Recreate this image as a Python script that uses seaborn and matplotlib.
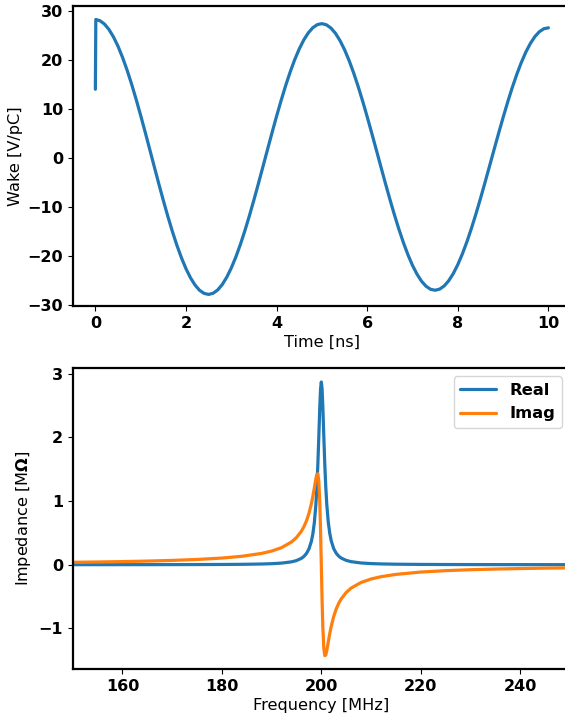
import matplotlib
matplotlib.use("Agg")
import matplotlib.pyplot as plt
import seaborn as sns
import pandas as pd

# ---- data ----
time_ns = [0.0, 0.01] + [round(0.1 * k, 1) for k in range(1, 101)]
wake_vpc = [14.0, 28.2,
    27.96, 27.28, 26.17, 24.65, 22.75, 20.48, 17.90, 15.04, 11.94, 8.66,
    5.25, 1.76, -1.76, -5.24, -8.64, -11.89, -14.96, -17.78, -20.32, -22.54,
    -24.40, -25.87, -26.94, -27.57, -27.78, -27.54, -26.87, -25.78, -24.28, -22.40,
    -20.18, -17.63, -14.81, -11.76, -8.53, -5.17, -1.73, 1.73, 5.16, 8.51,
    11.71, 14.73, 17.51, 20.02, 22.20, 24.03, 25.48, 26.53, 27.16, 27.36,
    27.12, 26.46, 25.39, 23.91, 22.06, 19.87, 17.36, 14.58, 11.58, 8.40,
    5.09, 1.71, -1.70, -5.08, -8.37, -11.53, -14.50, -17.24, -19.71, -21.86,
    -23.66, -25.09, -26.12, -26.74, -26.93, -26.70, -26.05, -24.99, -23.54, -21.72,
    -19.56, -17.09, -14.36, -11.40, -8.27, -5.01, -1.68, 1.68, 5.00, 8.24,
    11.35, 14.28, 16.97, 19.40, 21.52, 23.29, 24.70, 25.71, 26.32, 26.51]

freq_mhz = [150, 155, 160, 165, 170, 175, 180, 184, 188, 190, 192, 194, 195, 196,
    196.5, 197, 197.5, 198, 198.3, 198.6, 198.9, 199.1, 199.3, 199.5, 199.7,
    199.85, 200, 200.15, 200.3, 200.5, 200.7, 200.9, 201.1, 201.4, 201.7, 202,
    202.5, 203, 203.5, 204, 205, 206, 208, 210, 212, 215, 220, 225, 230, 235,
    240, 245, 250]
z_real = [0.0005, 0.0006, 0.0008, 0.0011, 0.0016, 0.0024, 0.0038, 0.0061, 0.011,
    0.016, 0.0252, 0.045, 0.0647, 0.1004, 0.130, 0.1746, 0.2453, 0.3666, 0.4843,
    0.662, 0.939, 1.208, 1.567, 2.016, 2.491, 2.765, 2.87, 2.765, 2.492, 2.019,
    1.573, 1.215, 0.946, 0.669, 0.4912, 0.3731, 0.2511, 0.1795, 0.1344, 0.1043,
    0.068, 0.0478, 0.0273, 0.0177, 0.0124, 0.0081, 0.0047, 0.003, 0.0022, 0.0016,
    0.0013, 0.001, 0.0008]
z_imag = [0.0378, 0.0428, 0.049, 0.057, 0.0676, 0.0824, 0.1044, 0.132, 0.1776,
    0.2139, 0.268, 0.3566, 0.4261, 0.5274, 0.5971, 0.6861, 0.8023, 0.958, 1.075,
    1.209, 1.347, 1.417, 1.429, 1.312, 0.972, 0.539, 0.0, -0.539, -0.971, -1.311,
    -1.428, -1.418, -1.349, -1.214, -1.081, -0.965, -0.811, -0.695, -0.6064,
    -0.5372, -0.4364, -0.3672, -0.2787, -0.2248, -0.1885, -0.1521, -0.1154,
    -0.0934, -0.0787, -0.0681, -0.0602, -0.054, -0.049]

series_names = ["Real", "Imag"]
x_ticks_top = [0, 2, 4, 6, 8, 10]
y_ticks_top = [-30, -20, -10, 0, 10, 20, 30]
x_ticks_bot = [160, 180, 200, 220, 240]
y_ticks_bot = [-1, 0, 1, 2, 3]

# ---- styling ----
sns.set_style("ticks")
plt.rcParams["font.family"] = ["DejaVu Sans"]
FS_LABEL = 11.6
FS_TICK = 11.5
FS_LEG = 11.8
blue, orange = "#1f77b4", "#ff7f0e"

fig = plt.figure(figsize=(5.65, 7.15), dpi=100)
ax1 = fig.add_axes([0.1287, 0.5716, 0.882, 0.42])
ax2 = fig.add_axes([0.1287, 0.0639, 0.880, 0.421])

wake_df = pd.DataFrame({"t": time_ns, "w": wake_vpc})
sns.lineplot(data=wake_df, x="t", y="w", ax=ax1, color=blue, linewidth=2.3,
             sort=False, estimator=None)
ax1.set_xlim(-0.5, 10.5)
ax1.set_ylim(-30.2, 30.95)
ax1.set_xticks(x_ticks_top)
ax1.set_yticks(y_ticks_top)
ax1.set_xlabel("Time [ns]", fontsize=FS_LABEL, color="black", labelpad=3)
ax1.set_ylabel("Wake [V/pC]", fontsize=FS_LABEL, color="black")
ax1.yaxis.set_label_coords(-0.099, 0.5)

imp_df = pd.DataFrame({
    "f": freq_mhz * 2,
    "z": z_real + z_imag,
    "part": [series_names[0]] * len(freq_mhz) + [series_names[1]] * len(freq_mhz),
})
sns.lineplot(data=imp_df, x="f", y="z", hue="part", ax=ax2,
             palette=[blue, orange], linewidth=2.3, sort=False, estimator=None)
ax2.set_xlim(150, 250)
ax2.set_xticks(x_ticks_bot)
ax2.set_yticks(y_ticks_bot)
ax2.set_xlabel("Frequency [MHz]", fontsize=FS_LABEL, color="black", labelpad=3)
ax2.set_ylabel(r"Impedance [M$\mathbf{\Omega}$]", fontsize=FS_LABEL, color="black")
ax2.yaxis.set_label_coords(-0.079, 0.5)
leg = ax2.legend(loc="upper right", prop={"weight": "bold", "size": FS_LEG},
                 handlelength=2.2, frameon=True)
leg.get_frame().set_edgecolor("#cccccc")
for txt in leg.get_texts():
    txt.set_color("black")

for ax in (ax1, ax2):
    for s in ax.spines.values():
        s.set_linewidth(1.6)
        s.set_color("black")
    ax.tick_params(labelsize=FS_TICK, length=3.5, width=0.8, colors="black")
    for lab in ax.get_xticklabels() + ax.get_yticklabels():
        lab.set_fontweight("bold")

fig.savefig("out.png", dpi=100)
